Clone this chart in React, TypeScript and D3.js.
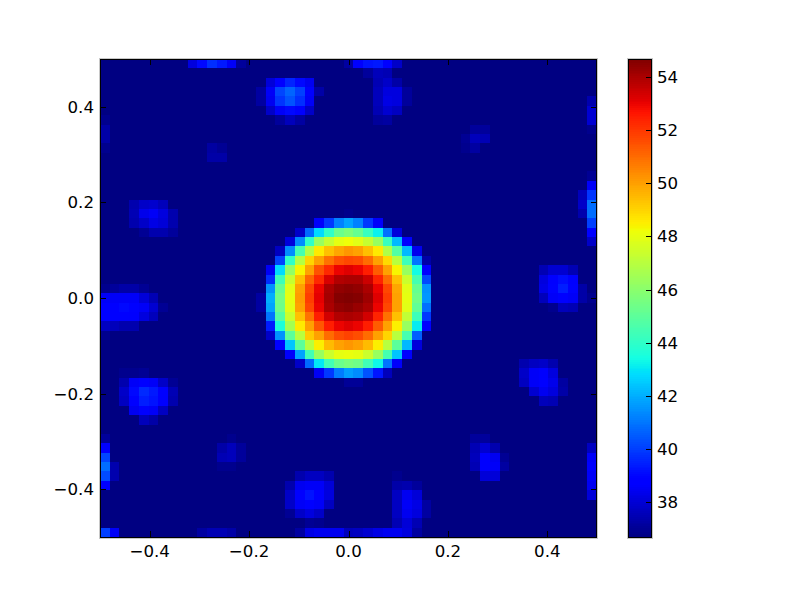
import React, { useEffect, useRef } from "react";
import * as d3 from "d3";

const GRID = 51;
const BASE = 36.72;
const vMin = 36.68;
const vMax = 54.68;
const axisTicks = [-0.4, -0.2, 0, 0.2, 0.4];
const colorTicks = [38, 40, 42, 44, 46, 48, 50, 52, 54];

// [row from top, first column, ...values]
const centralPeak: number[][] = [
  [16, 25, 36.85],
  [17, 22, 38.6, 39.9, 41.2, 41.8, 41.2, 39.9, 38.6],
  [18, 20, 37.8, 40.8, 42.8, 44, 45.3, 45.7, 45.2, 44.2, 43.2, 40.9, 38.1],
  [19, 19, 38.1, 41.4, 44, 46.3, 47.3, 48, 48.2, 47.9, 47.3, 46.3, 44.2, 42.2, 38.7],
  [20, 18, 37.7, 41.4, 44.5, 46.9, 48.6, 49.4, 49.9, 50.2, 50, 49.4, 48.6, 46.8, 44.8, 42.2, 38.4],
  [21, 18, 40.1, 44, 46.9, 49, 50, 50.9, 51.5, 51.7, 51.6, 51, 50, 48.9, 47, 44.3, 41, 37.3],
  [22, 17, 38.5, 42.8, 46.2, 48.4, 50, 51.5, 52.3, 53, 53.2, 53, 52.5, 51.3, 50, 48.4, 46.3, 43.4, 38.8],
  [23, 17, 39.7, 44.3, 47.3, 49.4, 51.1, 52.3, 53.3, 53.9, 54, 54, 53.5, 52.4, 51, 49.4, 47.4, 44.5, 40.2],
  [24, 17, 41.5, 45.2, 47.9, 50, 51.7, 53, 54, 54.4, 54.5, 54.4, 54, 53, 51.7, 49.9, 47.9, 45.2, 41.5],
  [25, 16, 37.2, 42, 45.5, 48, 50.1, 51.9, 53.1, 54.1, 54.6, 54.7, 54.6, 54.2, 53.2, 51.9, 50, 48, 45.4, 41.6],
  [26, 16, 37.2, 41.8, 45.4, 47.9, 50, 51.7, 53, 54, 54.4, 54.5, 54.3, 54, 53, 51.7, 50, 47.9, 45.1, 40.9],
  [27, 17, 41, 44.8, 47.4, 49.4, 50.9, 52.5, 53.4, 53.9, 54, 53.9, 53.4, 52.4, 50.9, 49.4, 47.2, 44.3, 39.9],
  [28, 17, 39.4, 43.6, 46.6, 48.6, 50, 51.4, 52.5, 53, 53.2, 53, 52.5, 51.3, 50, 48.5, 46.3, 43.1, 38.7],
  [29, 17, 37.8, 41.5, 45, 47, 49.2, 50, 51, 51.6, 51.8, 51.6, 51, 50, 49, 47, 44.5, 40.6],
  [30, 18, 38.7, 42.4, 45, 47, 48.5, 49.5, 50, 50.2, 50, 49.5, 48.5, 47, 45, 42.2, 38.1],
  [31, 19, 38.6, 41.8, 44.4, 46.3, 47.4, 48, 48.1, 48, 47.4, 46.3, 44.5, 42.4, 38.7],
  [32, 20, 37.8, 40.8, 43, 44.4, 45.3, 45.6, 45.4, 44.4, 43.3, 41, 38.6],
  [33, 22, 38.5, 39.9, 41.1, 41.7, 41.4, 40.4, 39.3, 37.6],
  [34, 25, 37.05, 37.05],
];

const topLeftBlobs: number[][] = [
  [0, 9, 38.15, 39.05, 39.75, 39.35, 38.55, 37.1],
  [2, 17, 38.05, 38.85, 39.55, 39.05, 38.45],
  [3, 16, 37.2, 38.55, 40.15, 40.7, 40.05, 38.75, 37.3],
  [4, 16, 37.2, 38.45, 39.85, 40.4, 39.75, 38.55],
  [5, 17, 37.8, 38.55, 39.05, 38.65, 37.8],
  [6, 18, 37.1, 37.6, 37.2],
  [6, 0, 36.9],
  [7, 0, 37.3],
  [8, 0, 37.3],
  [9, 0, 36.9],
  [9, 11, 37.2, 37.0],
  [10, 11, 37.3, 37.3],
  [15, 3, 37.4, 37.8, 37.9, 37.6],
  [16, 3, 37.5, 38.35, 38.55, 38.15, 37.4],
  [17, 3, 37.4, 37.8, 38.25, 38.05, 37.4],
  [18, 4, 37.0, 37.4, 37.4, 37.1],
];

const leftBlobs: number[][] = [
  [24, 0, 36.9, 37.1, 37.3, 37.3, 37.0],
  [25, 0, 38.55, 38.55, 38.55, 38.55, 38.05, 37.5],
  [26, 0, 38.75, 38.85, 39.05, 38.95, 38.55, 37.95, 37.0],
  [27, 0, 38.75, 38.75, 38.75, 38.65, 38.15, 37.6],
  [28, 0, 37.7, 37.6, 37.4, 37.4],
  [29, 0, 36.9],
  [33, 2, 36.9, 36.9, 37.0],
  [34, 2, 37.4, 38.55, 38.75, 38.55, 37.8, 37.0],
  [35, 2, 37.8, 39.05, 39.65, 39.35, 38.75, 37.5],
  [36, 2, 37.7, 38.85, 39.45, 39.25, 38.65, 37.4],
  [37, 3, 38.45, 38.75, 38.55, 37.7],
  [38, 4, 37.6, 37.3],
  [40, 0, 37.1],
  [41, 0, 38.85],
  [42, 0, 40.15],
  [43, 0, 40.85, 37.4],
  [44, 0, 40.25, 37.4],
  [45, 0, 38.75],
];

const bottomBlobs: number[][] = [
  [40, 13, 36.9],
  [41, 12, 37.3, 37.6, 37.1],
  [42, 12, 37.5, 37.6, 37.1],
  [43, 12, 36.9, 36.9],
  [44, 20, 37.4, 37.7, 37.7, 37.4],
  [45, 19, 37.4, 38.45, 38.55, 38.55, 38.05],
  [46, 19, 37.8, 38.75, 39.25, 38.85, 38.15],
  [47, 19, 37.8, 38.55, 38.85, 38.55, 37.7],
  [48, 19, 37.0, 37.8, 38.15, 37.8],
  [49, 21, 37.0, 36.9],
  [50, 0, 40.05, 38.55],
  [50, 10, 37.2, 37.5, 37.5, 37.3],
  [50, 20, 37.2, 38.25, 38.45, 38.45, 38.45, 37.6, 37.7, 37.95, 38.25, 38.45, 38.45, 38.15, 37.2],
  [44, 30, 36.9],
  [45, 30, 37.3, 37.4, 37.1],
  [46, 30, 37.7, 38.45, 38.05],
  [47, 30, 37.7, 38.55, 38.25, 37.2],
  [48, 30, 37.7, 38.45, 38.15, 37.2],
  [49, 30, 37.5, 38.05, 37.5],
];

const rightBlobs: number[][] = [
  [0, 25, 37.2, 38.65, 39.25, 39.35, 38.75, 37.8],
  [1, 27, 37.1, 37.6, 37.5],
  [2, 28, 37.5, 37.8, 37.3],
  [3, 28, 37.6, 38.15, 38.15, 37.1],
  [4, 28, 37.6, 38.25, 38.15, 37.1],
  [5, 28, 37.5, 37.95, 37.7],
  [6, 28, 37.1, 37.2],
  [7, 38, 37.1, 37.1],
  [8, 37, 37.0, 37.6, 37.5],
  [9, 37, 36.9, 37.2],
  [4, 50, 37.4],
  [5, 50, 37.95],
  [6, 50, 37.95],
  [7, 50, 36.9],
  [12, 50, 37.0],
  [13, 50, 38.55],
  [14, 49, 37.6, 39.85],
  [15, 49, 37.8, 40.85],
  [16, 49, 37.4, 40.85],
  [17, 50, 40.05],
  [18, 50, 38.75],
  [19, 50, 37.8],
  [22, 45, 37.5, 37.95, 37.95, 37.5],
  [23, 45, 38.15, 38.75, 39.15, 38.85],
  [24, 45, 38.25, 38.95, 39.45, 38.95, 37.3],
  [25, 45, 37.6, 38.55, 38.75, 38.55, 37.3, 36.9],
  [26, 46, 36.9, 37.6, 37.5],
  [32, 43, 37.4, 37.7, 37.8, 37.4],
  [33, 43, 37.8, 38.55, 38.65, 38.15],
  [34, 43, 37.7, 38.55, 38.75, 38.35, 37.2],
  [35, 44, 37.95, 38.45, 38.15, 37.3],
  [36, 45, 37.6, 37.5],
  [40, 38, 37.1, 37.1],
  [41, 38, 37.5, 37.95, 37.4],
  [42, 38, 37.6, 38.65, 38.45, 37.0],
  [43, 38, 37.5, 38.65, 38.55, 37.2],
  [44, 39, 38.05, 38.05],
  [41, 50, 37.7],
  [42, 50, 38.55],
  [43, 50, 38.65],
  [44, 50, 38.55],
  [45, 50, 38.45],
  [46, 50, 38.05],
];

// matplotlib "jet" control points
const jetR = d3.scaleLinear<number>().domain([0, 0.35, 0.66, 0.89, 1]).range([0, 0, 1, 1, 0.5]).clamp(true);
const jetG = d3.scaleLinear<number>().domain([0, 0.125, 0.375, 0.64, 0.91, 1]).range([0, 0, 1, 1, 0, 0]).clamp(true);
const jetB = d3.scaleLinear<number>().domain([0, 0.11, 0.34, 0.65, 1]).range([0.5, 1, 1, 0, 0]).clamp(true);
const norm = d3.scaleLinear().domain([vMin, vMax]).range([0, 1]);
const jet = (v: number) => {
  const t = norm(v);
  return d3.rgb(jetR(t) * 255, jetG(t) * 255, jetB(t) * 255).formatHex();
};

const W = 800;
const H = 597;
const L = 100, R = 597, T = 59, B = 537;
const CL = 628, CR = 652;
const FONT = "'DejaVu Sans', sans-serif";
const FS = 16.67;

export default function App() {
  const ref = useRef<SVGSVGElement>(null);
  useEffect(() => {
    const svg = d3.select(ref.current);
    svg.selectAll("*").remove();

    const grid: number[][] = d3.range(GRID).map(() => d3.range(GRID).map(() => BASE));
    [...centralPeak, ...topLeftBlobs, ...leftBlobs, ...bottomBlobs, ...rightBlobs].forEach(([row, col, ...vals]) => {
      vals.forEach((v, k) => { grid[row][col + k] = v; });
    });
    const cells = grid.flatMap((r, j) => r.map((v, i) => ({ i, j, v })));

    const xBand = d3.scaleLinear().domain([0, GRID]).range([L, R]);
    const yBand = d3.scaleLinear().domain([0, GRID]).range([T, B]);
    const x = d3.scaleLinear().domain([-0.5, 0.5]).range([L, R]);
    const y = d3.scaleLinear().domain([-0.5, 0.5]).range([B, T]);
    const c = d3.scaleLinear().domain([vMin, vMax]).range([B, T]);

    svg.append("rect").attr("width", W).attr("height", H).attr("fill", "#fff");

    svg.append("g").attr("shape-rendering", "crispEdges")
      .selectAll("rect").data(cells).join("rect")
      .attr("x", d => xBand(d.i)).attr("y", d => yBand(d.j))
      .attr("width", d => xBand(d.i + 1) - xBand(d.i))
      .attr("height", d => yBand(d.j + 1) - yBand(d.j))
      .attr("fill", d => jet(d.v));

    const levels = d3.range(256).map(k => vMin + (k / 256) * (vMax - vMin));
    const step = (vMax - vMin) / 256;
    svg.append("g").attr("shape-rendering", "crispEdges")
      .selectAll("rect").data(levels).join("rect")
      .attr("x", CL).attr("width", CR - CL)
      .attr("y", d => c(d + step)).attr("height", d => c(d) - c(d + step) + 0.5)
      .attr("fill", d => jet(d + step / 2));

    // soft grey edge just outside each black frame
    const halo = svg.append("g").attr("stroke", "#c8c8c8").attr("stroke-width", 1).attr("fill", "none");
    halo.append("rect").attr("x", L - 0.5).attr("y", T - 0.5).attr("width", R - L + 1).attr("height", B - T + 2);
    halo.append("rect").attr("x", CL - 0.5).attr("y", T - 0.5).attr("width", CR - CL + 1).attr("height", B - T + 2);

    const lines = svg.append("g").attr("stroke", "#000").attr("stroke-width", 1).attr("fill", "none");
    lines.append("rect").attr("x", L + 0.5).attr("y", T + 0.5).attr("width", R - L - 1).attr("height", B - T);
    lines.append("rect").attr("x", CL + 0.5).attr("y", T + 0.5).attr("width", CR - CL - 1).attr("height", B - T);
    const TL = 6;
    axisTicks.forEach(t => {
      const px = Math.round(x(t)) + 0.5;
      const py = Math.round(y(t)) + 0.5;
      lines.append("line").attr("x1", px).attr("x2", px).attr("y1", B).attr("y2", B - TL);
      lines.append("line").attr("x1", px).attr("x2", px).attr("y1", T).attr("y2", T + TL);
      lines.append("line").attr("x1", L).attr("x2", L + TL).attr("y1", py).attr("y2", py);
      lines.append("line").attr("x1", R).attr("x2", R - TL).attr("y1", py).attr("y2", py);
    });
    colorTicks.forEach(t => {
      const py = Math.round(c(t)) + 0.5;
      lines.append("line").attr("x1", CR).attr("x2", CR - TL).attr("y1", py).attr("y2", py);
    });

    const text = svg.append("g").attr("font-family", FONT).attr("font-size", FS).attr("fill", "#000");
    const fmt = (t: number) => d3.format(".1f")(t).replace("-", "\u2212");
    axisTicks.forEach(t => {
      text.append("text").attr("x", x(t)).attr("y", B + 20).attr("text-anchor", "middle").text(fmt(t));
      text.append("text").attr("x", L - 6).attr("y", y(t) + 6).attr("text-anchor", "end").text(fmt(t));
    });
    colorTicks.forEach(t => {
      text.append("text").attr("x", CR + 5).attr("y", c(t) + 6).text(String(t));
    });
  }, []);
  return <svg ref={ref} width={W} height={H} style={{ position: "absolute", left: 0, top: 0 }} />;
}
